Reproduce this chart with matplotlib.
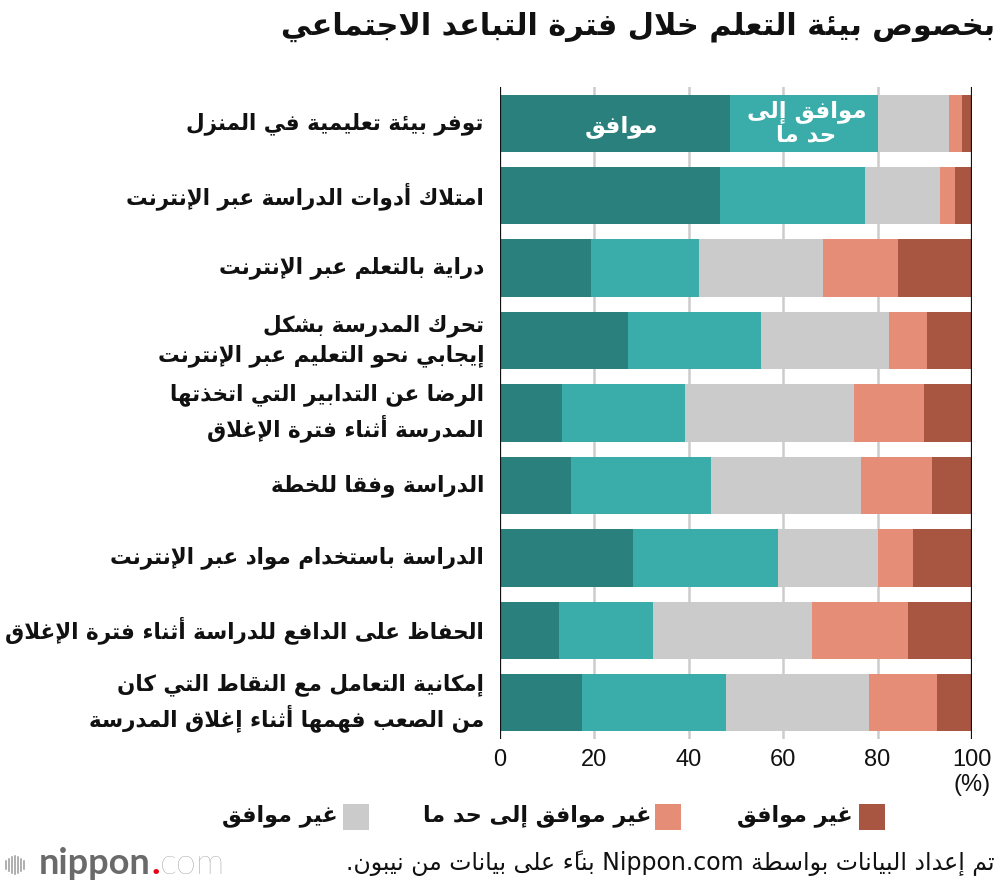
import re
import matplotlib
matplotlib.use("Agg")
import matplotlib.pyplot as plt
from matplotlib.patches import Rectangle
from matplotlib.lines import Line2D
from matplotlib import font_manager

# ---------------- Arabic shaping helpers (matplotlib has no shaping) -------------
_DUAL = {'\u0626': 0xFE89, '\u0628': 0xFE8F, '\u062A': 0xFE95, '\u062B': 0xFE99, '\u062C': 0xFE9D,
         '\u062D': 0xFEA1, '\u062E': 0xFEA5, '\u0633': 0xFEB1, '\u0634': 0xFEB5, '\u0635': 0xFEB9,
         '\u0636': 0xFEBD, '\u0637': 0xFEC1, '\u0638': 0xFEC5, '\u0639': 0xFEC9, '\u063A': 0xFECD,
         '\u0641': 0xFED1, '\u0642': 0xFED5, '\u0643': 0xFED9, '\u0644': 0xFEDD, '\u0645': 0xFEE1,
         '\u0646': 0xFEE5, '\u0647': 0xFEE9, '\u064A': 0xFEF1}
_RIGHT = {'\u0622': 0xFE81, '\u0623': 0xFE83, '\u0624': 0xFE85, '\u0625': 0xFE87, '\u0627': 0xFE8D,
          '\u0629': 0xFE93, '\u062F': 0xFEA9, '\u0630': 0xFEAB, '\u0631': 0xFEAD, '\u0632': 0xFEAF,
          '\u0648': 0xFEED, '\u0649': 0xFEEF}
FORMS = {}
for ch, b in _DUAL.items():
    FORMS[ch] = (chr(b), chr(b + 1), chr(b + 2), chr(b + 3))
for ch, b in _RIGHT.items():
    FORMS[ch] = (chr(b), chr(b + 1), None, None)
FORMS['\u0621'] = ('\uFE80', None, None, None)
LAM_ALEF = {'\u0622': ('\uFEF5', '\uFEF6'), '\u0623': ('\uFEF7', '\uFEF8'),
            '\u0625': ('\uFEF9', '\uFEFA'), '\u0627': ('\uFEFB', '\uFEFC')}


def _is_mark(c):
    return '\u064B' <= c <= '\u0652' or c == '\u0670'


def _is_arabic(c):
    return '\u0600' <= c <= '\u06FF'


def _jt(t):
    if t['c'] == 'LA':
        return 'R'
    if t['c'] == '\u0640':
        return 'D'
    f = FORMS.get(t['c'])
    if f is None:
        return 'U'
    if f[2] is not None:
        return 'D'
    if f[1] is not None:
        return 'R'
    return 'U'


def _shape_line(line):
    if not any(_is_arabic(c) for c in line):
        return line
    toks = []
    i = 0
    while i < len(line):
        c = line[i]
        if _is_mark(c) and toks:
            toks[-1]['m'] += c
            i += 1
            continue
        if c == '\u0644' and i + 1 < len(line) and line[i + 1] in LAM_ALEF:
            toks.append({'c': 'LA', 'a': line[i + 1], 'm': ''})
            i += 2
            continue
        toks.append({'c': c, 'm': ''})
        i += 1
    for k, t in enumerate(toks):
        j = _jt(t)
        prev = k > 0 and _jt(toks[k - 1]) == 'D' and j in 'DR'
        nxt = k + 1 < len(toks) and j == 'D' and _jt(toks[k + 1]) in 'DR'
        if t['c'] == 'LA':
            g = LAM_ALEF[t['a']][1 if prev else 0]
        elif t['c'] in FORMS:
            f = FORMS[t['c']]
            if prev and nxt:
                g = f[3]
            elif prev:
                g = f[1]
            elif nxt:
                g = f[2]
            else:
                g = f[0]
        else:
            g = t['c']
        t['g'] = g + t['m']
        t['L'] = t['c'] != 'LA' and t['c'].isascii() and t['c'].isalnum()
    for k, t in enumerate(toks):
        if t['c'] == '.' and 0 < k < len(toks) - 1 and toks[k - 1]['L'] and toks[k + 1]['L']:
            t['L'] = True
    runs = []
    for t in toks:
        if runs and runs[-1][0] == t['L']:
            runs[-1][1].append(t['g'])
        else:
            runs.append([t['L'], [t['g']]])
    out = []
    for isL, gl in reversed(runs):
        out.append(''.join(gl) if isL else ''.join(reversed(gl)))
    return ''.join(out)


def ar(s):
    return '\n'.join(_shape_line(l) for l in s.split('\n'))


# ---------------- data ----------------
categories = [
    "توفر بيئة تعليمية في المنزل",
    "امتلاك أدوات الدراسة عبر الإنترنت",
    "دراية بالتعلم عبر الإنترنت",
    "تحرك المدرسة بشكل\nإيجابي نحو التعليم عبر الإنترنت",
    "الرضا عن التدابير التي اتخذتها\nالمدرسة أثناء فترة الإغلاق",
    "الدراسة وفقا للخطة",
    "الدراسة باستخدام مواد عبر الإنترنت",
    "الحفاظ على الدافع للدراسة أثناء فترة الإغلاق",
    "إمكانية التعامل مع النقاط التي كان\nمن الصعب فهمها أثناء إغلاق المدرسة",
]
agree = [48.7, 46.6, 19.3, 27.1, 13.2, 15.0, 28.1, 12.6, 17.4]
somewhat_agree = [31.3, 30.8, 22.8, 28.3, 26.0, 29.8, 30.9, 19.8, 30.4]
neutral = [15.1, 15.8, 26.3, 27.0, 35.8, 31.6, 21.0, 33.7, 30.3]
somewhat_disagree = [2.7, 3.3, 15.9, 8.0, 14.9, 15.2, 7.6, 20.3, 14.5]
disagree = [2.2, 3.5, 15.7, 9.6, 10.1, 8.4, 12.4, 13.6, 7.4]

series_labels = ["موافق", "موافق إلى\nحد ما", "غير موافق", "غير موافق إلى حد ما", "غير موافق"]
colors = ["#2A807C", "#3AADAA", "#CBCBCB", "#E68D78", "#A85542"]
xticks = [0, 20, 40, 60, 80, 100]
title = "بخصوص بيئة التعلم خلال فترة التباعد الاجتماعي"
source = "تم إعداد البيانات بواسطة Nippon.com بناءً على بيانات من نيبون."

# ---------------- fonts ----------------
available = {f.name for f in font_manager.fontManager.ttflist}
AR = ['DejaVu Sans']
NUM = ['Liberation Sans', 'DejaVu Sans'] if 'Liberation Sans' in available else ['DejaVu Sans']
LOGO = ['Lato', 'DejaVu Sans'] if 'Lato' in available else ['DejaVu Sans']

W, H = 1000, 890
fig = plt.figure(figsize=(W / 100, H / 100), dpi=100)
fig.patch.set_facecolor('white')


def fx(px):
    return px / W


def fy(py):
    return 1 - py / H


ax_top, ax_bot = 87, 739
ax = fig.add_axes([fx(500), fy(ax_bot), fx(972) - fx(500), (ax_bot - ax_top) / H])

series = [agree, somewhat_agree, neutral, somewhat_disagree, disagree]
ypos = list(range(len(categories)))
left = [0.0] * len(categories)
for vals, col in zip(series, colors):
    ax.barh(ypos, vals, left=left, height=0.79, color=col, edgecolor='none', zorder=2)
    left = [l + v for l, v in zip(left, vals)]

ax.set_xlim(0, 100)
ax.set_ylim(len(categories) - 0.5, -0.5)
ax.set_xticks(xticks)
ax.set_xticklabels([str(t) for t in xticks], family=NUM, fontsize=17, color='#111111')
ax.set_yticks([])
ax.tick_params(axis='x', length=0, pad=7)
for s in ax.spines.values():
    s.set_visible(False)
for t in xticks[1:-1]:
    ax.axvline(t, color='#CCCCCC', lw=1.8, zorder=1)
ax.axvline(0, color='#111111', lw=1.6, zorder=3)
ax.axvline(100, color='#111111', lw=1.6, zorder=3)

# "(%)" under 100
fig.text(fx(972), fy(785), "(%)", ha='center', va='center', family=NUM, fontsize=17, color='#111111')

# category labels
for i, cat in enumerate(categories):
    ax.text(-16 / 472, i, ar(cat), transform=ax.get_yaxis_transform(), ha='right', va='center',
            multialignment='right', family=AR, fontweight='bold', fontsize=15.5, linespacing=1.38,
            color='#111111')

# in-bar labels on first row
ax.text(agree[0] / 2 + 1.3, 0.05, ar(series_labels[0]), ha='center', va='center', color='white',
        family=AR, fontweight='bold', fontsize=16.8, zorder=4)
ax.text(agree[0] + somewhat_agree[0] / 2 + 0.6, 0, ar(series_labels[1]), ha='center', va='center',
        color='white', family=AR, fontweight='bold', fontsize=16.5, linespacing=1.05, zorder=4)

# title
fig.text(fx(995), fy(27), ar(title), ha='right', va='center', family=AR, fontweight='bold',
         fontsize=21.8, color='#111111')

# legend (right to left)
leg_items = [(859, 853, 4), (655, 651, 3), (343, 338, 2)]
for sx, tx, k in leg_items:
    fig.add_artist(Rectangle((fx(sx), fy(830)), 26 / W, 26 / H, transform=fig.transFigure,
                             facecolor=colors[k], edgecolor='none'))
    fig.text(fx(tx), fy(816), ar(series_labels[k]), ha='right', va='center', family=AR,
             fontweight='bold', fontsize=16, color='#111111')

# source
fig.text(fx(995), fy(863), ar(source), ha='right', va='center', family=AR, fontsize=17,
         color='#111111')

# logo
bars_h = [8, 12, 16, 18, 16, 12, 8]
for k, hh in enumerate(bars_h):
    x = fx(6 + k * 3.0)
    fig.add_artist(Line2D([x, x], [fy(865 + hh / 2), fy(865 - hh / 2)], transform=fig.transFigure,
                          color='#9A9A9A', lw=1.1))
t1 = fig.text(fx(39), fy(874), "nippon", ha='left', va='baseline', family=LOGO, fontsize=26,
              color='#6A6A6A', fontweight='bold')
fig.canvas.draw()
bb = t1.get_window_extent()
t2 = fig.text(bb.x1 / W + 0.001, fy(874), ".", ha='left', va='baseline', family=LOGO, fontsize=26,
              color='#E60012', fontweight='bold')
bb2 = t2.get_window_extent()
fig.text(bb2.x1 / W, fy(874), "com", ha='left', va='baseline', family=LOGO, fontsize=26,
         color='#8A8A8A', fontweight='light')

fig.savefig('out.png', dpi=100)
